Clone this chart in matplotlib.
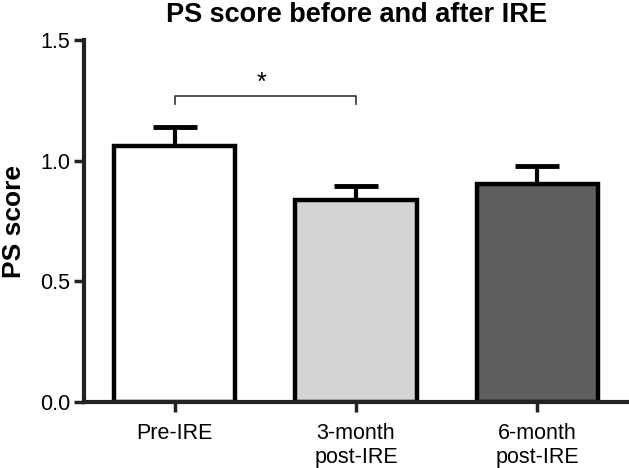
import numpy as np
import matplotlib.pyplot as plt

plt.rcParams['font.family'] = ['Liberation Sans', 'DejaVu Sans']

# Data
groups = ["Pre-IRE", "3-month\npost-IRE", "6-month\npost-IRE"]
means = [1.06, 0.837, 0.905]
sems = [0.08, 0.058, 0.073]
colors = ["white", "#d4d4d4", "#5f5f5f"]
sig_pair = (0, 1)
sig_y = 1.268

fig = plt.figure(figsize=(6.29, 4.68), dpi=100)
ax = fig.add_axes([0.1335, 0.141, 0.865, 0.7735])

x = np.arange(len(groups))
ax.bar(x, means, width=0.67, color=colors, edgecolor="black", linewidth=3.2, zorder=2)
ax.errorbar(x, means, yerr=[np.zeros(len(sems)), sems], fmt="none", ecolor="black",
            elinewidth=3, capsize=16, capthick=3.5, zorder=1)

# significance bracket
x1, x2 = sig_pair
ax.plot([x1, x1, x2, x2], [sig_y - 0.033, sig_y, sig_y, sig_y - 0.033],
        color="#333333", linewidth=1.2, clip_on=False)
ax.text((x1 + x2) / 2 - 0.02, sig_y + 0.005, "*", ha="center", va="bottom", fontsize=18)

ax.set_xlim(-0.5, 2.5)
ax.set_ylim(0, 1.5)
ax.set_yticks([0.0, 0.5, 1.0, 1.5])
ax.set_yticklabels(["0.0", "0.5", "1.0", "1.5"])
ax.set_xticks(x)
ax.set_xticklabels(groups)
ax.tick_params(labelsize=15.5, width=2.5, length=7, color="#222222")
ax.tick_params(axis="y", pad=3)
ax.tick_params(axis="x", pad=8)

for side in ["top", "right"]:
    ax.spines[side].set_visible(False)
for side in ["left", "bottom"]:
    ax.spines[side].set_linewidth(3)
    ax.spines[side].set_color("#222222")

ax.set_ylabel("PS score", fontsize=19, fontweight="bold", labelpad=10)
ax.set_title("PS score before and after IRE", fontsize=19.5, fontweight="bold", pad=13)

fig.savefig("out.png", dpi=100)
